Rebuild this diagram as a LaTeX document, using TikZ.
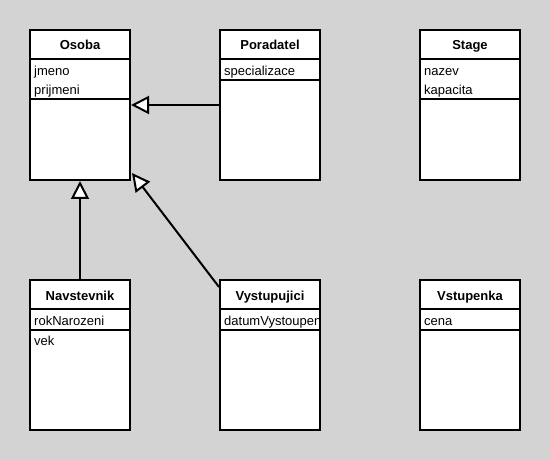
\documentclass[tikz,border=0pt]{standalone}
\usepackage{fontspec}
\setmainfont{Liberation Sans}
\usetikzlibrary{arrows.meta,calc}
\definecolor{bggray}{RGB}{211,211,211}
\tikzset{
  classbox/.style={draw, fill=white, line width=2pt, minimum width=100pt, minimum height=150pt, inner sep=0pt},
  classname/.style={anchor=base, inner sep=0pt, font=\fontsize{13}{15}\selectfont\bfseries},
  attr/.style={anchor=base west, inner sep=0pt, font=\fontsize{13}{15}\selectfont},
  compart/.style={line width=2pt},
  inherits/.style={line width=2pt, -{Triangle[open, length=18pt, width=18pt, fill=white]}}
}
\newcommand{\classline}[2]{\draw[compart] ($(#1.north west)+(0,#2)$) -- ($(#1.north east)+(0,#2)$);}
\begin{document}
\begin{tikzpicture}[x=1pt,y=-1pt]
  \fill[bggray] (0,0) rectangle (550,460);
  % top row
  \node[classbox] (osoba) at (80,105) {};
  \node[classname] (osobaT) at ($(osoba.north)+(0,21)$) {Osoba};
  \node[attr] (osobaA1) at ($(osoba.north west)+(5,47)$) {jmeno};
  \node[attr] (osobaA2) at ($(osoba.north west)+(5,66)$) {prijmeni};
  \classline{osoba}{30}
  \classline{osoba}{70}

  \node[classbox] (por) at (270,105) {};
  \node[classname] (porT) at ($(por.north)+(0,21)$) {Poradatel};
  \node[attr] (porA1) at ($(por.north west)+(5,47)$) {specializace};
  \classline{por}{30}
  \classline{por}{51}

  \node[classbox] (stage) at (470,105) {};
  \node[classname] (stageT) at ($(stage.north)+(0,21)$) {Stage};
  \node[attr] (stageA1) at ($(stage.north west)+(5,47)$) {nazev};
  \node[attr] (stageA2) at ($(stage.north west)+(5,66)$) {kapacita};
  \classline{stage}{30}
  \classline{stage}{70}

  % bottom row
  \node[classbox] (nav) at (80,355) {};
  \node[classname] (navT) at ($(nav.north)+(0,21)$) {Navstevnik};
  \node[attr] (navA1) at ($(nav.north west)+(5,46)$) {rokNarozeni};
  \node[attr] (navM1) at ($(nav.north west)+(5,66)$) {vek};
  \classline{nav}{30}
  \classline{nav}{51}

  \node[classbox] (vys) at (270,355) {};
  \node[classname] (vysT) at ($(vys.north)+(0,21)$) {Vystupujici};
  \begin{scope}
    \clip (vys.north west) rectangle ($(vys.south east)+(-1,0)$);
    \node[attr] (vysA1) at ($(vys.north west)+(5,46)$) {datumVystoupeni};
  \end{scope}
  \classline{vys}{30}
  \classline{vys}{51}

  \node[classbox] (vst) at (470,355) {};
  \node[classname] (vstT) at ($(vst.north)+(0,21)$) {Vstupenka};
  \node[attr] (vstA1) at ($(vst.north west)+(5,46)$) {cena};
  \classline{vst}{30}
  \classline{vst}{51}

  % inheritance
  \draw[inherits] (por.west) -- (osoba.east);
  \draw[inherits] (nav.north) -- (osoba.south);
  \draw[inherits] ($(vys.north west)+(0,8)$) -- ($(osoba.south east)+(1,-8)$);
\end{tikzpicture}
\end{document}
